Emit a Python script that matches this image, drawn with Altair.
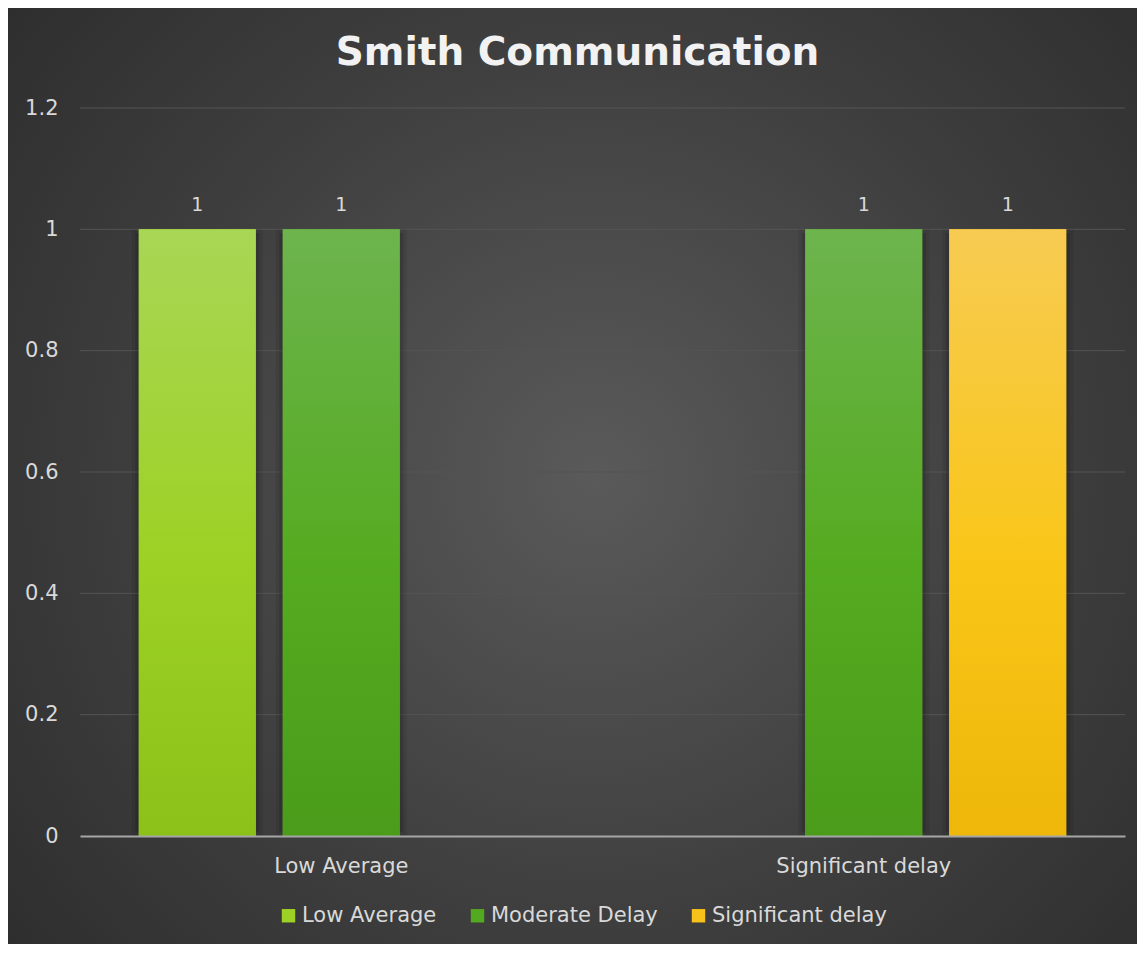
import altair as alt
import pandas as pd

# ---- data ----
categories = ["Low Average", "Significant delay"]
series = ["Low Average", "Moderate Delay", "Significant delay"]
low_average = [1, None]
moderate_delay = [1, 1]
significant_delay = [None, 1]
grid_ticks = [0.2, 0.4, 0.6, 0.8, 1.0, 1.2]
y_labels = [0, 0.2, 0.4, 0.6, 0.8, 1.0, 1.2]
title_text = "Smith Communication"

rows = []
for s, vals in zip(series, [low_average, moderate_delay, significant_delay]):
    for c, v in zip(categories, vals):
        if v is not None:
            rows.append({"category": c, "series": s, "value": v})
df = pd.DataFrame(rows)
grid_df = pd.DataFrame({"value": grid_ticks})
bg_df = pd.DataFrame({"k": [0]})

# ---- styling ----
W, H = 1045, 728
PAD = {"left": 72, "top": 100, "right": 12, "bottom": 108}
FONT = "DejaVu Sans"
TXT = "#d9d9d9"
solid = ["#9ed125", "#53a91f", "#f7c31a"]
grad_stops = {
    "Low Average": ["#a9d655", "#9dd124", "#8cc11a"],
    "Moderate Delay": ["#6db44e", "#55ab20", "#4a9c1a"],
    "Significant delay": ["#f7cb52", "#f9c618", "#eeb70a"],
}

x_scale = alt.Scale(domain=categories, paddingInner=0.225, paddingOuter=0.1125)
xo_scale = alt.Scale(domain=series, paddingInner=0.1875, paddingOuter=0)
y_scale = alt.Scale(domain=[0, 1.2], nice=False, zero=True)

x_axis = alt.Axis(title=None, labelAngle=0, labelFontSize=21, labelColor=TXT,
                  labelFont=FONT, ticks=False, domainColor="#a6a6a6",
                  domainWidth=2, labelPadding=19, zindex=1)
y_axis = alt.Axis(title=None, values=y_labels, grid=False, ticks=False,
                  domain=False, labelFontSize=21, labelColor=TXT,
                  labelFont=FONT, labelPadding=22, zindex=1,
                  labelExpr="datum.value == 1 ? '1' : format(datum.value, '.1~f')")

bg = alt.Chart(bg_df).mark_rect(
    fill=alt.RadialGradient(
        gradient="radial",
        stops=[alt.GradientStop(color="#5a5a5a", offset=0),
               alt.GradientStop(color="#3e3e3e", offset=0.55),
               alt.GradientStop(color="#2b2b2b", offset=1)],
        x1=0.52, y1=0.5, x2=0.52, y2=0.5, r1=0, r2=0.72),
).encode(x=alt.value(-PAD["left"]), x2=alt.value(W + PAD["right"]),
         y=alt.value(-PAD["top"]), y2=alt.value(H + PAD["bottom"]))

grid = alt.Chart(grid_df).mark_rule(color="#555555", strokeWidth=1).encode(
    y=alt.Y("value:Q", scale=y_scale, axis=y_axis),
    x=alt.value(0), x2=alt.value(W))

base = alt.Chart(df)
enc = dict(
    x=alt.X("category:N", sort=categories, scale=x_scale, axis=x_axis),
    xOffset=alt.XOffset("series:N", sort=series, scale=xo_scale),
    y=alt.Y("value:Q", scale=y_scale, axis=y_axis),
)
shadow_enc = dict(
    x=enc["x"], xOffset=enc["xOffset"],
    y=alt.Y("shadow_top:Q", scale=y_scale, axis=y_axis),
    y2=alt.Y2("shadow_bottom:Q"),
)

shadow_base = base.transform_calculate(shadow_top="datum.value - 0.012",
                                       shadow_bottom="0.012")
shadow_wide = shadow_base.mark_bar(fillOpacity=0, stroke="#000000",
                                   strokeOpacity=0.08, strokeWidth=14).encode(**shadow_enc)
shadow_near = shadow_base.mark_bar(fillOpacity=0, stroke="#000000",
                                   strokeOpacity=0.12, strokeWidth=7).encode(**shadow_enc)

legend_bars = base.mark_bar().encode(
    color=alt.Color("series:N", sort=series,
                    scale=alt.Scale(domain=series, range=solid),
                    legend=alt.Legend(title=None, orient="none",
                                      direction="horizontal",
                                      legendX=198, legendY=797,
                                      symbolType="square", symbolSize=180,
                                      symbolStrokeWidth=0, labelFontSize=21,
                                      labelColor=TXT, labelFont=FONT,
                                      labelLimit=400,
                                      labelOffset=3, columnPadding=30)),
    **enc)

grad_layers = []
for s in series:
    cols = grad_stops[s]
    grad_layers.append(
        base.transform_filter(alt.datum.series == s).mark_bar(
            color=alt.LinearGradient(
                gradient="linear",
                stops=[alt.GradientStop(color=cols[0], offset=0),
                       alt.GradientStop(color=cols[1], offset=0.55),
                       alt.GradientStop(color=cols[2], offset=1)],
                x1=0, x2=0, y1=0, y2=1)
        ).encode(**enc)
    )

labels = base.mark_text(dy=-24, fontSize=19, color=TXT, font=FONT).encode(
    text=alt.Text("value:Q"), **enc)

chart = alt.layer(bg, grid, shadow_wide, shadow_near, legend_bars, *grad_layers,
                  labels).properties(
    width=W, height=H,
    padding=PAD,
    autosize=alt.AutoSizeParams(type="none"),
    background="#2c2c2c",
    title=alt.TitleParams(title_text, fontSize=39, font=FONT,
                          fontWeight="bold", color="#f2f2f2", anchor="middle",
                          frame="group", dx=-25, offset=-65),
).configure_view(stroke=None)

chart.save("out.html", embed_options={"renderer": "svg", "actions": False})
